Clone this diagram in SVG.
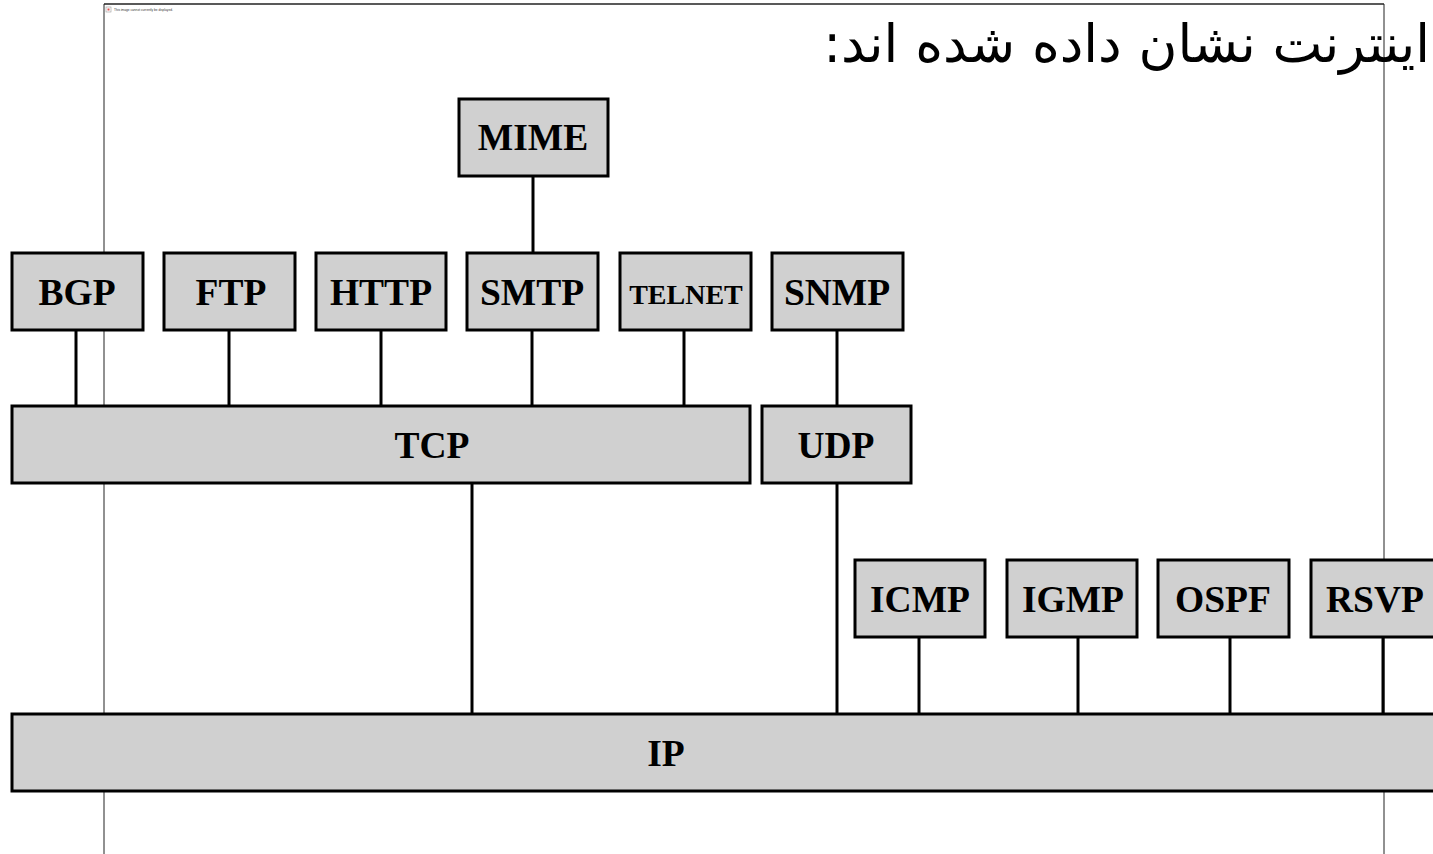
<svg xmlns="http://www.w3.org/2000/svg" width="1433" height="854" viewBox="0 0 1433 854">
<style>
.box rect{fill:#d0d0d0;stroke:#000;stroke-width:3}
.box text{font-family:"Liberation Serif","Times New Roman",serif;font-weight:bold;font-size:37.5px;text-anchor:middle;fill:#000}
.box text.sm{font-size:28px}
#connectors line{stroke:#000;stroke-width:3}
.frame{fill:none;stroke:#222;stroke-width:1}
</style>
<rect x="0" y="0" width="1433" height="854" fill="#fff"/>
<g id="frame">
<line class="frame" x1="104" y1="4" x2="1384" y2="4" style="stroke-width:1.5"/>
<line class="frame" x1="104" y1="4" x2="104" y2="854"/>
<line class="frame" x1="1384" y1="4" x2="1384" y2="854"/>
<rect x="106" y="7" width="5" height="5" fill="#fff" stroke="#999" stroke-width="0.6"/>
<rect x="107.5" y="8.5" width="2" height="2" fill="#e05050"/>
<text x="114" y="11" font-family="Liberation Sans,Arial,sans-serif" font-size="3.2" fill="#333">This image cannot currently be displayed.</text>
</g>
<text id="title" x="1430" y="62" direction="rtl" text-anchor="start" font-family="DejaVu Sans,Noto Sans,sans-serif" font-size="53" fill="#000">اینترنت نشان داده شده اند:</text>
<g id="connectors">
<line x1="533" y1="176" x2="533" y2="253"/>
<line x1="76" y1="330" x2="76" y2="406"/>
<line x1="229" y1="330" x2="229" y2="406"/>
<line x1="381" y1="330" x2="381" y2="406"/>
<line x1="532" y1="330" x2="532" y2="406"/>
<line x1="684" y1="330" x2="684" y2="406"/>
<line x1="837" y1="330" x2="837" y2="406"/>
<line x1="472" y1="483" x2="472" y2="714"/>
<line x1="837" y1="483" x2="837" y2="714"/>
<line x1="919" y1="637" x2="919" y2="714"/>
<line x1="1078" y1="637" x2="1078" y2="714"/>
<line x1="1230" y1="637" x2="1230" y2="714"/>
<line x1="1383" y1="637" x2="1383" y2="714"/>
</g>
<g id="MIME" class="box"><rect x="459" y="99" width="149" height="77"/><text x="533" y="150">MIME</text></g>
<g id="BGP" class="box"><rect x="12" y="253" width="131" height="77"/><text x="77" y="305">BGP</text></g>
<g id="FTP" class="box"><rect x="164" y="253" width="131" height="77"/><text x="231" y="305">FTP</text></g>
<g id="HTTP" class="box"><rect x="316" y="253" width="130" height="77"/><text x="381" y="305">HTTP</text></g>
<g id="SMTP" class="box"><rect x="467" y="253" width="131" height="77"/><text x="532" y="305">SMTP</text></g>
<g id="TELNET" class="box"><rect x="620" y="253" width="131" height="77"/><text class="sm" x="686" y="304">TELNET</text></g>
<g id="SNMP" class="box"><rect x="772" y="253" width="131" height="77"/><text x="837" y="305">SNMP</text></g>
<g id="TCP" class="box"><rect x="12" y="406" width="738" height="77"/><text x="432" y="458">TCP</text></g>
<g id="UDP" class="box"><rect x="762" y="406" width="149" height="77"/><text x="836" y="458">UDP</text></g>
<g id="ICMP" class="box"><rect x="855" y="560" width="130" height="77"/><text x="920" y="612">ICMP</text></g>
<g id="IGMP" class="box"><rect x="1007" y="560" width="130" height="77"/><text x="1073" y="612">IGMP</text></g>
<g id="OSPF" class="box"><rect x="1158" y="560" width="131" height="77"/><text x="1223" y="612">OSPF</text></g>
<g id="RSVP" class="box"><rect x="1311" y="560" width="131" height="77"/><text x="1375" y="612">RSVP</text></g>
<g id="IP" class="box"><rect x="12" y="714" width="1440" height="77"/><text x="666" y="766">IP</text></g>
</svg>
